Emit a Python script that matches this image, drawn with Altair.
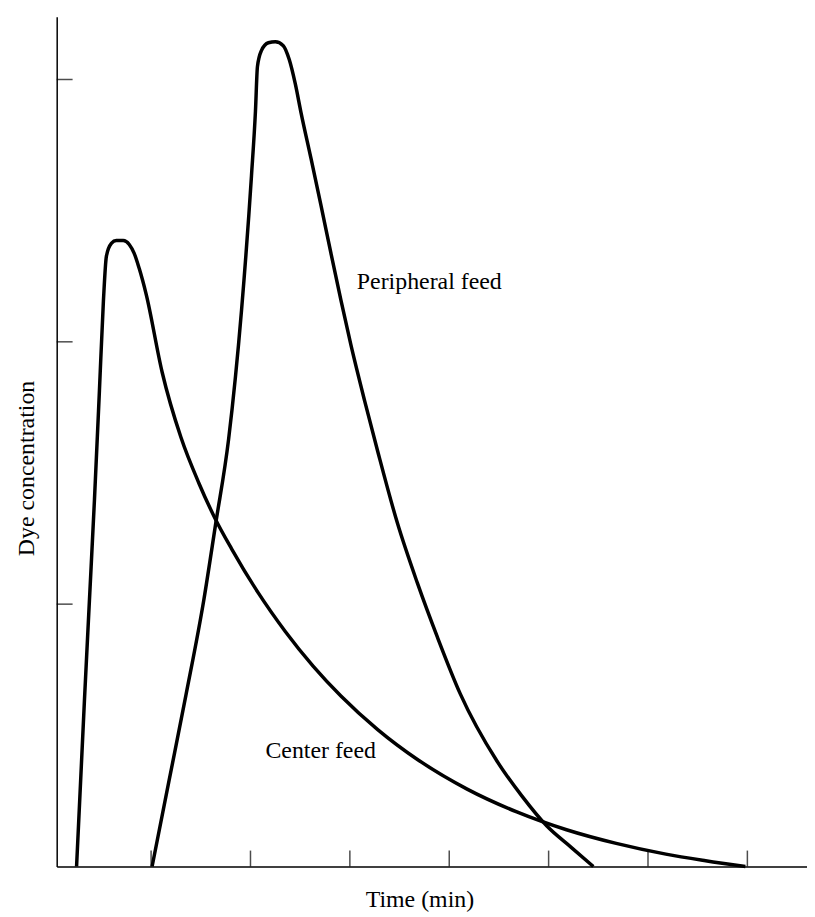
import altair as alt
import pandas as pd

# Center feed curve (time in tick units, concentration in tick units)
center_time = [0.25, 0.33, 0.38, 0.43, 0.48, 0.52, 0.55, 0.60, 0.65, 0.72, 0.78, 0.83, 0.88, 0.95,
               1.11, 1.30, 1.48, 1.65, 1.81, 2.08, 2.35, 2.63, 2.91, 3.28, 3.68, 4.18, 4.68, 5.18, 5.68, 6.18, 6.58, 6.98]
center_conc = [0.0, 0.640, 1.019, 1.398, 1.814, 2.155, 2.326, 2.375, 2.386, 2.386, 2.371, 2.337, 2.280, 2.182,
               1.886, 1.636, 1.462, 1.322, 1.211, 1.042, 0.896, 0.764, 0.650, 0.522, 0.408, 0.295, 0.208, 0.140,
               0.088, 0.047, 0.022, 0.0]

# Peripheral feed curve
periph_time = [1.01, 1.18, 1.35, 1.53, 1.65, 1.78, 1.91, 2.01, 2.05, 2.07, 2.11, 2.18, 2.25, 2.33, 2.39, 2.45, 2.51,
               2.61, 2.71, 2.81, 2.91, 3.01, 3.15, 3.28, 3.48, 3.68, 3.88, 4.11, 4.48, 4.73, 4.98, 5.23, 5.45]
periph_conc = [0.0, 0.326, 0.652, 1.015, 1.307, 1.629, 2.121, 2.633, 2.879, 3.049, 3.110, 3.140, 3.144, 3.129, 3.076,
               2.985, 2.871, 2.697, 2.519, 2.337, 2.159, 1.989, 1.773, 1.583, 1.307, 1.080, 0.875, 0.659, 0.402,
               0.269, 0.155, 0.072, 0.0]

x_ticks = [1, 2, 3, 4, 5, 6, 7]
y_ticks = [1, 2, 3]

label_text = ["Peripheral feed", "Center feed"]
label_time = [3.07, 2.15]
label_conc = [2.227, 0.439]

df = pd.concat([
    pd.DataFrame({"time": center_time, "conc": center_conc, "series": "Center feed"}),
    pd.DataFrame({"time": periph_time, "conc": periph_conc, "series": "Peripheral feed"}),
])

FONT = "Liberation Serif"
xscale = alt.Scale(domain=[0.05, 7.60], nice=False, zero=False)
yscale = alt.Scale(domain=[0, 3.239], nice=False, zero=False)

xaxis = alt.Axis(title="Time (min)", domain=True, ticks=False, labels=False, grid=False,
                 titleX=365, titleY=33, titleBaseline="middle", titleAlign="center",
                 titleFont=FONT, titleFontSize=24, titleFontWeight="normal", titleColor="black",
                 domainColor="black", domainWidth=1.5)
yaxis = alt.Axis(title="Dye concentration", domain=True, ticks=False, labels=False, grid=False,
                 titleX=-30, titleY=454, titleAngle=270, titleBaseline="middle", titleAlign="center",
                 titleFont=FONT, titleFontSize=24, titleFontWeight="normal", titleColor="black",
                 domainColor="black", domainWidth=1.5)

lines = alt.Chart(df).mark_line(color="black", strokeWidth=3.5, interpolate="monotone").encode(
    x=alt.X("time:Q", scale=xscale, axis=xaxis),
    y=alt.Y("conc:Q", scale=yscale, axis=yaxis),
    detail="series:N",
)

xt = alt.Chart(pd.DataFrame({"time": x_ticks, "conc": [0] * len(x_ticks)})).mark_tick(
    orient="vertical", color="black", thickness=1.5, size=16, yOffset=-8
).encode(
    x=alt.X("time:Q", scale=xscale, axis=xaxis),
    y=alt.Y("conc:Q", scale=yscale, axis=yaxis),
)

yt = alt.Chart(pd.DataFrame({"conc": y_ticks})).mark_tick(
    orient="horizontal", color="black", thickness=1.5, size=16, xOffset=8
).encode(
    y=alt.Y("conc:Q", scale=yscale, axis=yaxis),
    x=alt.value(0),
)

texts = alt.Chart(pd.DataFrame({"label": label_text, "time": label_time, "conc": label_conc})).mark_text(
    align="left", baseline="middle", font=FONT, fontSize=24, color="black"
).encode(
    x=alt.X("time:Q", scale=xscale, axis=xaxis),
    y=alt.Y("conc:Q", scale=yscale, axis=yaxis),
    text="label:N",
)

chart = alt.layer(lines, xt, yt, texts).properties(
    width=755, height=855,
    padding={"left": 49, "top": 6, "right": 0, "bottom": 50},
    autosize=alt.AutoSizeParams(type="none"),
).configure_view(stroke=None)

chart.save("out.html", embed_options={"renderer": "svg", "actions": False})
